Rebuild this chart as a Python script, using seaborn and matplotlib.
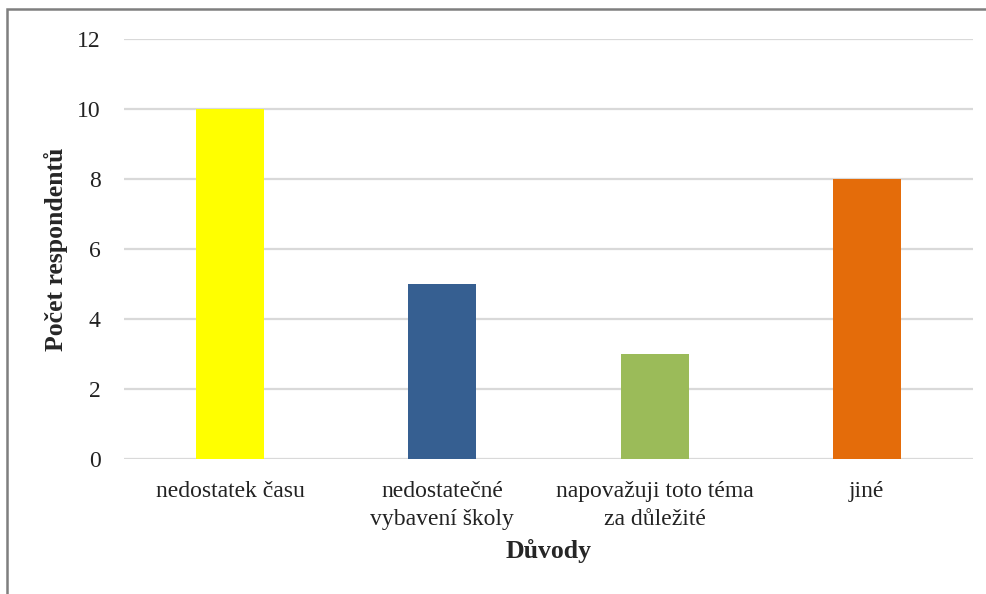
import matplotlib
matplotlib.use("Agg")
import matplotlib.pyplot as plt
import seaborn as sns
import pandas as pd
from matplotlib.patches import Rectangle

categories = ["nedostatek času", "nedostatečné\nvybavení školy",
              "napovažuji toto téma\nza důležité", "jiné"]
counts = [10, 5, 3, 8]
bar_colors = ["#FFFF00", "#365F91", "#9BBB59", "#E46C0A"]
y_ticks = [0, 2, 4, 6, 8, 10, 12]

df = pd.DataFrame({"duvod": categories, "pocet": counts})

sns.set_theme(style="white")
plt.rcParams["font.family"] = ["Liberation Serif", "DejaVu Serif"]

fig = plt.figure(figsize=(9.87, 5.94), dpi=100)
ax = fig.add_axes([124 / 987, 1 - 459 / 594, (973 - 124) / 987, (459 - 39) / 594])

sns.barplot(data=df, x="duvod", y="pocet", hue="duvod", palette=bar_colors,
            width=0.32, legend=False, ax=ax, saturation=1, linewidth=0)

ax.set_ylim(0, 12)
ax.set_yticks(y_ticks)
ax.set_xlim(-0.5, len(categories) - 0.5)
ax.grid(axis="y", color="#D9D9D9", linewidth=1.6)
ax.set_axisbelow(True)
for s in ax.spines.values():
    s.set_visible(False)
ax.tick_params(axis="y", length=0, pad=17, labelsize=17, colors="#222222")
ax.tick_params(axis="x", length=0, pad=16, labelsize=17, colors="#222222")
for lbl in ax.get_xticklabels():
    lbl.set_linespacing(1.4)

ax.set_xlabel("Důvody", fontsize=18.5, fontweight="bold", labelpad=7)
ax.set_ylabel("Počet respondentů", fontsize=18.5, fontweight="bold", labelpad=6)

# frame of the original chart (cut off on the right and bottom)
fig.patches.append(Rectangle((7 / 987, -0.1), 1.2, 1 - 9 / 594 + 0.1,
                             transform=fig.transFigure, fill=False,
                             edgecolor="#7F7F7F", linewidth=1.8))

fig.savefig("out.png", dpi=100)
